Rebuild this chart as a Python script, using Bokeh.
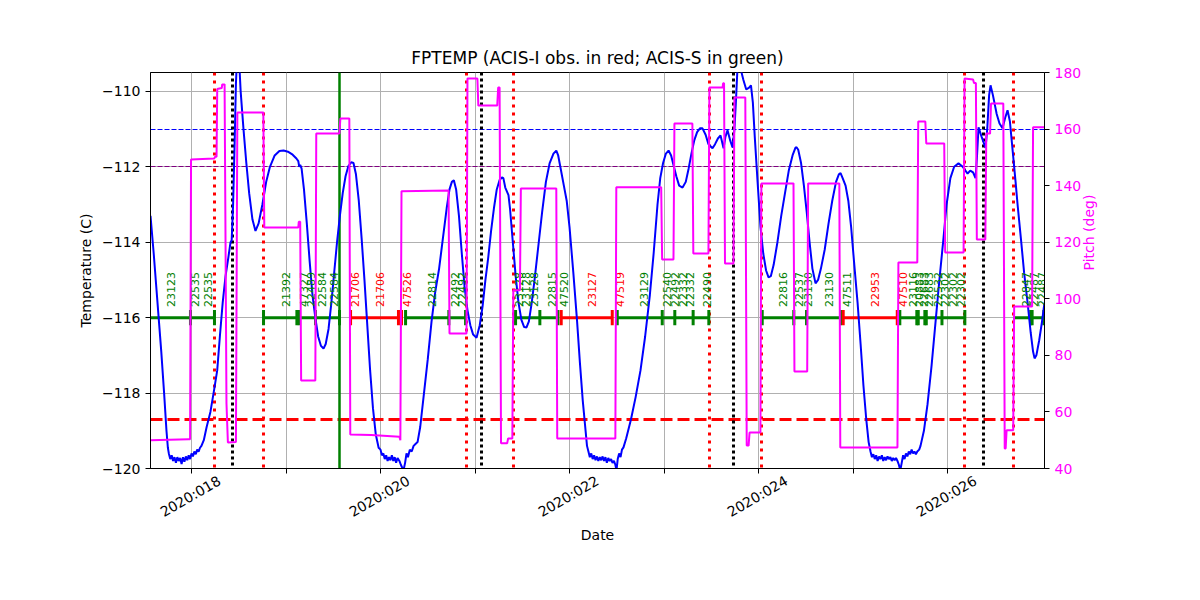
import math
from bokeh.plotting import figure
from bokeh.models import (Range1d, LinearAxis, FixedTicker, CustomJSTickFormatter,
                          ColumnDataSource)
from bokeh.core.properties import value
from bokeh.embed import file_html
from bokeh.resources import INLINE

FONT = "DejaVu Sans"

# ---------------- data ----------------
# FPTEMP (deg C) versus day of year 2020
temp_day = [
    17.566, 17.60, 17.64, 17.68, 17.71, 17.735, 17.75,
    17.76, 17.775, 17.79, 17.805, 17.82, 17.835, 17.85, 17.865, 17.88, 17.895, 17.91, 17.925,
    17.94, 17.955, 17.97, 17.985, 18.0, 18.015, 18.03, 18.045, 18.06, 18.075, 18.09, 18.105,
    18.13, 18.16, 18.20, 18.24, 18.272, 18.30, 18.33, 18.36, 18.39, 18.413,
    18.425, 18.44, 18.455, 18.47, 18.485, 18.50, 18.52, 18.55, 18.58, 18.61,
    18.645, 18.677, 18.71, 18.75, 18.79, 18.83, 18.88, 18.93, 18.974, 19.02,
    19.07, 19.11, 19.13, 19.14, 19.15, 19.165, 19.19, 19.22, 19.25, 19.28,
    19.31, 19.34, 19.37, 19.397, 19.42, 19.45, 19.48, 19.51, 19.54, 19.57,
    19.60, 19.63, 19.66, 19.69, 19.714, 19.74, 19.77, 19.80, 19.83, 19.86,
    19.89, 19.92, 19.95, 19.98,
    20.0, 20.015, 20.03, 20.045, 20.06, 20.075, 20.09, 20.105, 20.12, 20.135, 20.15, 20.165,
    20.18, 20.2, 20.215, 20.23, 20.243, 20.26, 20.275, 20.29, 20.31, 20.33, 20.35, 20.37, 20.392,
    20.42, 20.46, 20.50, 20.54, 20.58, 20.62, 20.66, 20.70, 20.73, 20.755,
    20.776, 20.80, 20.83, 20.86, 20.89, 20.92, 20.95, 20.98, 21.016, 21.05,
    21.08, 21.11, 21.14, 21.17, 21.20, 21.23, 21.26, 21.285, 21.30, 21.32,
    21.354, 21.37, 21.40, 21.43, 21.46, 21.49, 21.52, 21.545, 21.57, 21.60,
    21.63, 21.67, 21.71, 21.75, 21.79, 21.83, 21.86, 21.88, 21.91, 21.94,
    21.97, 22.00, 22.04, 22.08, 22.11, 22.14, 22.17, 22.185,
    22.20, 22.215, 22.23, 22.245, 22.26, 22.275, 22.29, 22.305, 22.32, 22.335, 22.35, 22.365,
    22.38, 22.395, 22.41, 22.425, 22.44, 22.455, 22.47, 22.485, 22.497, 22.51, 22.525, 22.54,
    22.555, 22.571,
    22.60, 22.65, 22.70, 22.751, 22.80, 22.85, 22.89, 22.931, 22.96, 22.99,
    23.02, 23.048, 23.075, 23.10, 23.13, 23.16, 23.196, 23.23, 23.26, 23.29,
    23.32, 23.35, 23.38, 23.407, 23.44, 23.47, 23.513, 23.54, 23.57, 23.598,
    23.615, 23.63, 23.65, 23.672, 23.70, 23.725, 23.745, 23.76, 23.775, 23.79,
    23.81, 23.84, 23.87, 23.90, 23.92, 23.94, 23.96, 23.99, 24.021, 24.05,
    24.08, 24.106, 24.13, 24.16, 24.20, 24.24, 24.28, 24.32, 24.36, 24.39,
    24.402, 24.42, 24.45, 24.48, 24.51, 24.54, 24.57, 24.603, 24.63, 24.66,
    24.70, 24.741, 24.78, 24.82, 24.85, 24.868, 24.89, 24.921, 24.95, 24.98,
    25.01, 25.048, 25.08, 25.11, 25.14, 25.165,
    25.185, 25.2, 25.215, 25.23, 25.245, 25.26, 25.275, 25.29, 25.305, 25.32, 25.335, 25.35,
    25.365, 25.38, 25.395, 25.41, 25.425, 25.44, 25.455, 25.47, 25.485, 25.5, 25.515, 25.53,
    25.545, 25.56, 25.575, 25.59, 25.605, 25.62, 25.635, 25.65, 25.665, 25.68, 25.7, 25.714,
    25.75, 25.788, 25.83, 25.87, 25.91, 25.958, 25.99, 26.03, 26.07, 26.116,
    26.16, 26.212, 26.24, 26.27, 26.296, 26.31, 26.328, 26.36, 26.402, 26.42,
    26.44, 26.455, 26.48, 26.52, 26.55, 26.582, 26.61, 26.635, 26.66, 26.69,
    26.72, 26.741, 26.78, 26.81, 26.847, 26.88, 26.905, 26.921, 26.94, 26.97,
    27.0, 27.026,
]
temp_c = [
    -113.3, -114.3, -115.6, -116.9, -118.0, -119.0, -119.45,
    -119.6, -119.75, -119.65, -119.8, -119.7, -119.85, -119.7, -119.8, -119.72, -119.88, -119.7, -119.82,
    -119.68, -119.78, -119.65, -119.75, -119.6, -119.68, -119.55, -119.62, -119.5, -119.55, -119.45, -119.4,
    -119.25, -118.9, -118.5, -117.9, -117.4, -116.5, -115.6, -114.9, -114.4, -114.0,
    -113.95, -113.0, -111.5, -109.8, -108.9, -109.0, -110.0, -111.0, -111.9, -112.7,
    -113.4, -113.7, -113.5, -113.0, -112.4, -112.0, -111.7, -111.58, -111.57, -111.6,
    -111.68, -111.78, -111.85, -112.0, -111.95, -112.05, -112.6, -113.5, -114.5, -115.4,
    -116.0, -116.5, -116.75, -116.82, -116.7, -116.3, -115.6, -114.8, -114.0, -113.3,
    -112.7, -112.25, -111.98, -111.88, -111.9, -112.2, -112.9, -113.9, -115.0, -116.2,
    -117.4, -118.4, -119.1, -119.45,
    -119.5, -119.65, -119.6, -119.75, -119.65, -119.8, -119.7, -119.78, -119.65, -119.8, -119.7, -119.85,
    -119.72, -119.8, -119.9, -119.98, -120.05, -119.85, -119.6, -119.7, -119.5, -119.55, -119.4, -119.35, -119.3,
    -118.9, -118.0, -117.1, -116.1, -115.3, -114.7, -113.9, -113.1, -112.6, -112.4,
    -112.36, -112.6, -113.3, -114.3, -115.2, -115.8, -116.2, -116.45, -116.53, -116.2,
    -115.7, -115.0, -114.4, -113.7, -113.1, -112.6, -112.35, -112.28, -112.3, -112.55,
    -112.75, -113.1, -114.0, -114.9, -115.6, -116.05, -116.25, -116.26, -116.1, -115.6,
    -115.0, -114.1, -113.2, -112.4, -111.9, -111.65, -111.57, -111.7, -112.1, -112.5,
    -112.9, -113.6, -114.8, -116.1, -117.2, -118.2, -119.0, -119.4,
    -119.55, -119.7, -119.6, -119.75, -119.65, -119.78, -119.68, -119.8, -119.7, -119.78, -119.68, -119.8,
    -119.7, -119.85, -119.72, -119.8, -119.75, -119.85, -119.8, -119.9, -120.05, -119.75, -119.6, -119.7,
    -119.5, -119.44,
    -119.2, -118.7, -118.1, -117.4, -116.5, -115.4, -114.3, -113.0, -112.3, -111.9,
    -111.65, -111.57, -111.7, -111.95, -112.25, -112.5, -112.55, -112.4, -112.05, -111.65,
    -111.3, -111.08, -110.98, -110.98, -111.15, -111.4, -111.51, -111.4, -111.25, -111.17,
    -111.35, -111.51, -111.2, -111.03, -111.3, -111.49, -111.0, -110.3, -109.5, -109.0,
    -109.4, -109.7, -109.95, -109.9, -109.84, -110.3, -111.2, -112.4, -113.6, -114.3,
    -114.75, -114.93, -114.9, -114.6, -114.0, -113.3, -112.7, -112.1, -111.7, -111.5,
    -111.48, -111.55, -111.9, -112.5, -113.2, -114.0, -114.7, -115.09, -115.0, -114.7,
    -114.2, -113.5, -112.9, -112.4, -112.2, -112.17, -112.3, -112.5, -112.9, -113.6,
    -114.5, -115.6, -116.7, -117.8, -118.7, -119.3,
    -119.55, -119.7, -119.62, -119.75, -119.65, -119.8, -119.68, -119.75, -119.65, -119.8, -119.7, -119.78,
    -119.68, -119.75, -119.7, -119.8, -119.72, -119.78, -119.72, -119.8, -119.9, -120.05, -119.85, -119.65,
    -119.75, -119.6, -119.68, -119.55, -119.62, -119.5, -119.6, -119.55, -119.62, -119.55, -119.5, -119.4,
    -119.0, -118.3, -117.3, -116.2, -115.1, -113.87, -113.0, -112.3, -112.0, -111.91,
    -112.0, -112.18, -112.1, -112.15, -112.3, -111.8, -110.95, -111.2, -111.5, -111.0,
    -110.1, -109.84, -110.1, -110.6, -110.85, -110.98, -110.7, -110.5, -110.8, -111.6,
    -112.4, -113.0, -114.0, -114.8, -115.6, -116.4, -116.9, -117.08, -117.0, -116.6,
    -116.1, -115.6,
]

# Pitch (deg) versus day of year 2020
pitch_day = [
    17.566, 17.97, 17.985, 17.995, 18.24, 18.25, 18.265, 18.272, 18.32, 18.325,
    18.35, 18.37, 18.385, 18.47, 18.485, 18.76, 18.77, 19.13, 19.135, 19.15,
    19.16, 19.31, 19.32, 19.565, 19.575, 19.67, 19.68, 19.9, 20.2, 20.21,
    20.222, 20.72, 20.73, 20.91, 20.92, 21.025, 21.035, 21.235, 21.245, 21.26,
    21.275, 21.34, 21.35, 21.395, 21.405, 21.475, 21.485, 21.86, 21.87, 22.485,
    22.495, 22.97, 22.98, 23.1, 23.11, 23.3, 23.31, 23.47, 23.48, 23.62,
    23.625, 23.635, 23.645, 23.735, 23.745, 23.86, 23.875, 23.895, 23.905, 24.02,
    24.03, 24.37, 24.38, 24.515, 24.525, 24.855, 24.865, 25.47, 25.48, 25.68,
    25.69, 25.765, 25.775, 25.965, 25.975, 26.17, 26.18, 26.27, 26.28, 26.3,
    26.31, 26.4, 26.41, 26.45, 26.46, 26.59, 26.605, 26.615, 26.625, 26.695,
    26.705, 26.895, 26.905, 27.026,
]
pitch_deg = [
    50.0, 50.3, 50.3, 149.2, 149.6, 150.2, 150.2, 174.2, 174.5, 175.8,
    175.8, 63.0, 49.2, 49.4, 165.9, 165.9, 125.2, 125.2, 127.2, 127.2,
    71.1, 71.1, 158.4, 158.4, 163.7, 163.7, 52.0, 51.8, 51.2, 50.0,
    138.0, 138.3, 87.7, 87.7, 177.9, 177.9, 168.3, 168.3, 174.7, 174.7,
    48.9, 48.9, 50.6, 50.6, 103.0, 103.0, 139.0, 139.0, 50.6, 50.6,
    139.4, 139.4, 113.9, 113.9, 162.0, 162.0, 116.0, 116.0, 174.7, 174.7,
    176.2, 176.2, 112.5, 112.5, 171.2, 171.2, 48.1, 48.1, 52.7, 52.7,
    140.8, 140.8, 74.3, 74.3, 140.8, 140.8, 47.4, 47.4, 112.8, 112.8,
    162.7, 162.7, 154.9, 154.9, 116.4, 116.4, 177.9, 177.5, 176.3, 176.3,
    121.0, 121.0, 158.4, 158.4, 169.0, 169.0, 47.1, 47.1, 53.5, 53.5,
    97.3, 97.3, 160.6, 160.6,
]

# observation segments (ACIS-I red, ACIS-S green)
obs_start = [17.566, 18.762, 19.683, 20.265, 21.429, 21.912, 22.505, 24.039, 24.896, 25.495, 26.698]
obs_stop = [18.243, 19.566, 20.222, 20.900, 21.877, 22.452, 23.474, 24.868, 25.468, 26.183, 27.026]
obs_instr = ["S", "S", "I", "S", "S", "I", "S", "S", "I", "S", "S"]

obs_tick_day = [17.989, 18.243, 18.762, 19.115, 19.14, 19.312, 19.566,
                19.683, 20.19, 20.222,
                20.265, 20.723, 20.90, 21.429, 21.686, 21.877,
                21.912, 22.452,
                22.505, 22.981, 23.114, 23.308, 23.474, 24.039, 24.373, 24.508, 24.868,
                24.896, 25.468,
                25.495, 25.675, 25.69, 25.76, 25.775, 25.941, 26.183, 26.88, 26.895, 27.019]
obs_tick_instr = ["S"] * 7 + ["I"] * 3 + ["S"] * 6 + ["I"] * 2 + ["S"] * 9 + ["I"] * 2 + ["S"] * 10

label_day = [17.785, 18.042, 18.172, 19.005, 19.193, 19.262, 19.376, 19.513, 19.730, 19.997,
             20.278, 20.547, 20.788, 20.864, 21.466, 21.540, 21.624, 21.817, 21.944, 22.240,
             22.529, 22.786, 23.034, 23.111, 23.196, 23.280, 23.450, 24.254, 24.431, 24.524,
             24.744, 24.934, 25.228, 25.532, 25.637, 25.698, 25.751, 25.804, 25.894, 25.968,
             26.053, 26.138, 26.825, 26.910, 26.995]
label_obsid = ["23123", "22535", "22535", "21392", "47327", "22489", "22584", "22584", "21706", "21706",
               "47526", "22814", "22492", "22492", "23128", "23128", "23128", "22815", "47520", "23127",
               "47519", "23129", "22540", "22492", "22332", "22332", "22490", "22816", "22537", "23130",
               "23130", "47511", "22953", "47510", "23116", "20883", "22683", "22683", "22532", "22302",
               "22302", "22302", "22847", "22487", "22487"]
label_instr = ["S", "S", "S", "S", "S", "S", "S", "S", "I", "I",
               "I", "S", "S", "S", "S", "S", "S", "S", "S", "I",
               "I", "S", "S", "S", "S", "S", "S", "S", "S", "S",
               "S", "S", "I", "I", "S", "S", "S", "S", "S", "S",
               "S", "S", "S", "S", "S"]

radzone_days = [18.243, 18.762, 20.910, 21.407, 23.481, 24.032, 26.180, 26.698]
perigee_days = [18.434, 21.069, 23.735, 26.381]
green_line_days = [19.566]

limit_red = [-118.7]
limit_blue = [-111.0]
limit_purple = [-112.0]

day_ticks = [18, 19, 20, 21, 22, 23, 24, 25, 26]
date_label_days = [18, 20, 22, 24, 26]
date_labels = ["2020:018", "2020:020", "2020:022", "2020:024", "2020:026"]
temp_ticks = [-120, -118, -116, -114, -112, -110]
pitch_ticks = [40, 60, 80, 100, 120, 140, 160, 180]

INSTR_COLOR = {"I": "#ff0000", "S": "#008000"}
OBS_LEVEL = -116.0
LABEL_LEVEL = -115.72
# rotated labels are anchored by their end; offset so they sit centred under the tick
LABEL_SHIFT = 0.296

# ---------------- figure ----------------
p = figure(width=1180, height=580,
           x_range=Range1d(17.566, 27.026), y_range=Range1d(-120, -109.5),
           output_backend="svg", toolbar_location=None,
           min_border_left=150, min_border_right=136,
           min_border_top=72, min_border_bottom=112,
           title="FPTEMP (ACIS-I obs. in red; ACIS-S in green)")
p.background_fill_color = "white"
p.border_fill_color = "white"
p.outline_line_color = "black"
p.outline_line_width = 1
p.outline_line_alpha = 1.0

p.title.align = "center"
p.title.text_font = FONT
p.title.text_font_size = "17px"
p.title.text_font_style = "normal"
p.title.text_color = "black"

xt = FixedTicker(ticks=day_ticks)
p.xaxis.ticker = xt
p.xgrid.ticker = xt
p.xaxis.formatter = CustomJSTickFormatter(code="return '';")
p.xaxis.major_label_standoff = 0
p.xaxis.major_label_text_font_size = "1px"

yt = FixedTicker(ticks=temp_ticks)
p.yaxis.ticker = yt
p.ygrid.ticker = yt
p.yaxis.formatter = CustomJSTickFormatter(code="""
return (tick < 0 ? '\u2212' : '') + Math.abs(tick).toFixed(0);
""")
p.yaxis.axis_label = "Temperature (C)"

# second "below" axis carrying only the rotated date labels
xlab = LinearAxis(
    ticker=FixedTicker(ticks=[d + LABEL_SHIFT for d in date_label_days]),
    formatter=CustomJSTickFormatter(
        args=dict(days=date_label_days, labels=date_labels, shift=LABEL_SHIFT),
        code="""
const i = days.findIndex(d => Math.abs(d + shift - tick) < 1e-6);
return i >= 0 ? labels[i] : '';
"""),
    axis_label="Date")
p.add_layout(xlab, "below")

p.extra_y_ranges = {"pitch": Range1d(40, 180)}
ax2 = LinearAxis(y_range_name="pitch", ticker=FixedTicker(ticks=pitch_ticks),
                 axis_label="Pitch (deg)")
p.add_layout(ax2, "right")

for ax in [p.xaxis[0], p.yaxis[0], ax2, xlab]:
    ax.axis_line_color = "black"
    ax.major_tick_line_color = "black"
    ax.major_tick_out = 5
    ax.major_tick_in = 0
    ax.minor_tick_line_color = None
    ax.major_label_text_font = FONT
    ax.major_label_text_color = "black"
    ax.axis_label_text_font = FONT
    ax.axis_label_text_font_size = "14px"
    ax.axis_label_text_font_style = "normal"
    ax.axis_label_text_color = "black"
for ax in [p.yaxis[0], ax2, xlab]:
    ax.major_label_text_font_size = "14px"
ax2.major_label_text_color = "#ff00ff"
ax2.axis_label_text_color = "#ff00ff"
try:
    ax2.axis_label_orientation = math.pi / 2
except Exception:
    pass

xlab.axis_line_color = None
xlab.major_tick_line_color = None
xlab.major_tick_out = 0
xlab.major_label_orientation = math.pi / 6
xlab.major_label_standoff = 6
xlab.axis_label_standoff = -3

for g in [p.xgrid[0], p.ygrid[0]]:
    g.grid_line_color = "#b0b0b0"
    g.grid_line_width = 1

# reference levels
p.hspan(y=limit_red, line_color="#ff0000", line_width=3, line_dash="12 5")
p.hspan(y=limit_blue, line_color="#0000ff", line_width=1, line_dash="5 2")
p.hspan(y=limit_purple, line_color="#800080", line_width=1, line_dash="5 2")

# vertical markers
p.vspan(x=radzone_days, line_color="#ff0000", line_width=3, line_dash="3 5")
p.vspan(x=perigee_days, line_color="black", line_width=3, line_dash="3 3")
p.vspan(x=green_line_days, line_color="#008000", line_width=2.5)

# observation bars
seg_src = ColumnDataSource(dict(
    x0=obs_start, x1=obs_stop,
    y=[OBS_LEVEL] * len(obs_start),
    c=[INSTR_COLOR[i] for i in obs_instr]))
p.segment(x0="x0", y0="y", x1="x1", y1="y", line_color="c", line_width=3, source=seg_src)

tick_src = ColumnDataSource(dict(
    x=obs_tick_day,
    y0=[OBS_LEVEL - 0.2] * len(obs_tick_day),
    y1=[OBS_LEVEL + 0.2] * len(obs_tick_day),
    c=[INSTR_COLOR[i] for i in obs_tick_instr]))
p.segment(x0="x", y0="y0", x1="x", y1="y1", line_color="c", line_width=3, source=tick_src)

# temperature
p.line(temp_day, temp_c, line_color="#0000ff", line_width=2)

# obsid labels
lab_src = ColumnDataSource(dict(
    x=label_day, y=[LABEL_LEVEL] * len(label_day), t=label_obsid,
    c=[INSTR_COLOR[i] for i in label_instr]))
p.text(x="x", y="y", text="t", source=lab_src, angle=math.pi / 2,
       text_color="c", text_font=value(FONT), text_font_size="11px",
       text_align="left", text_baseline="middle")

# pitch
p.line(pitch_day, pitch_deg, y_range_name="pitch", line_color="#ff00ff", line_width=2)

open("out.html", "w").write(file_html(p, INLINE))
